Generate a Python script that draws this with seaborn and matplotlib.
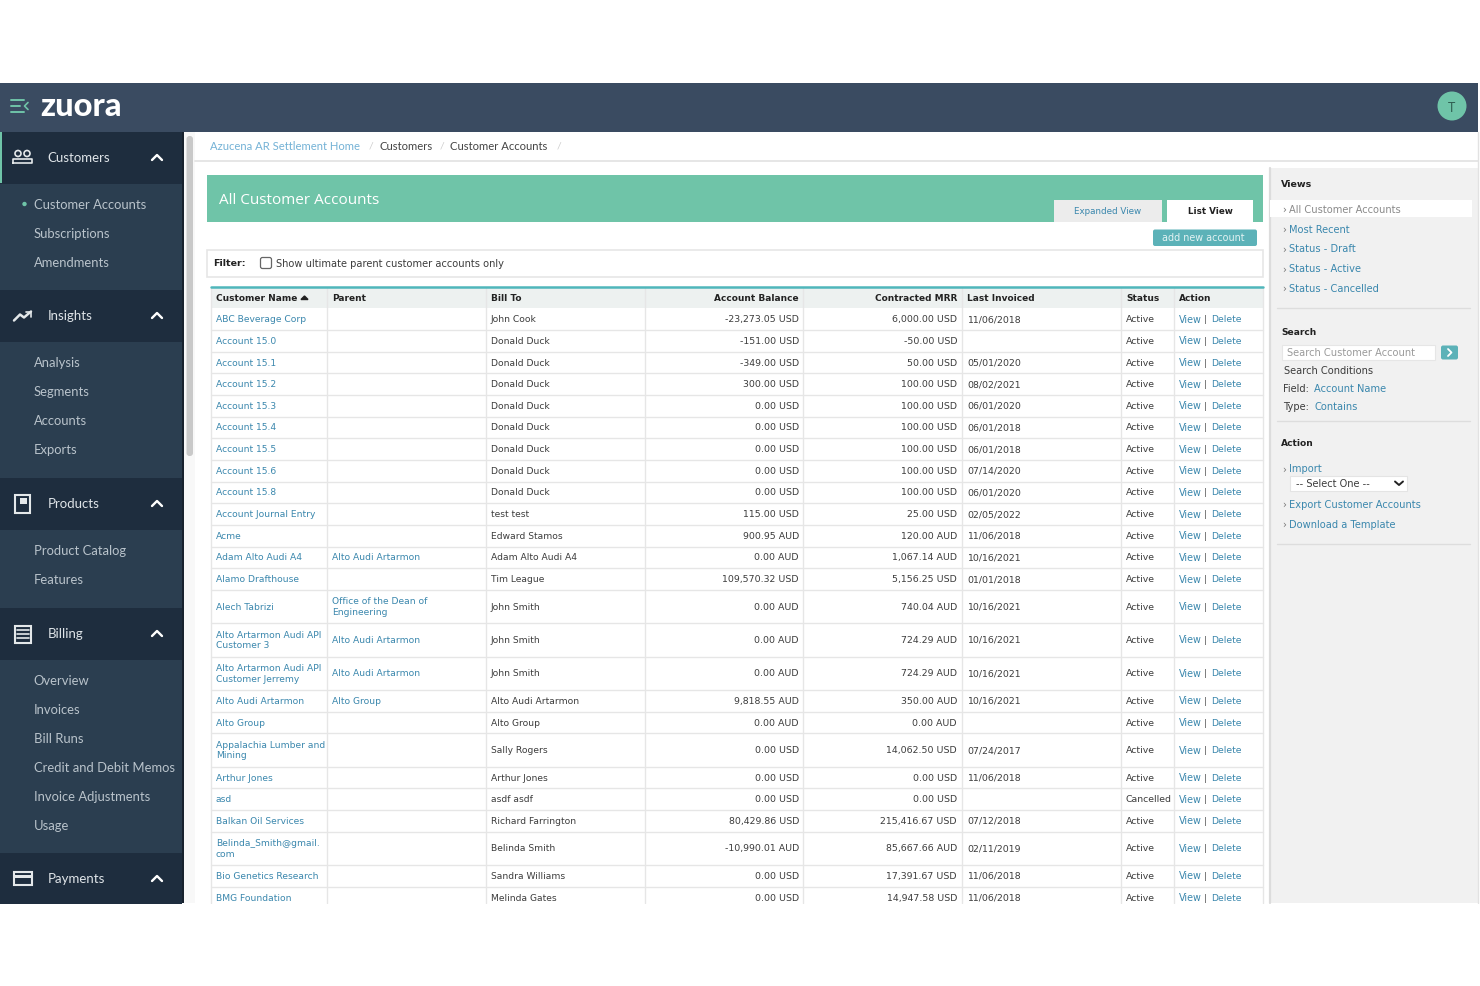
import matplotlib
matplotlib.use("Agg")
import matplotlib.pyplot as plt
from matplotlib.patches import Rectangle, Circle, FancyBboxPatch
import numpy as np
import pandas as pd
import seaborn as sns

customer_name = ["ABC Beverage Corp", "Account 15.0", "Account 15.1", "Account 15.2", "Account 15.3",
                 "Account 15.4", "Account 15.5", "Account 15.6", "Account 15.8", "Account Journal Entry",
                 "Acme", "Adam Alto Audi A4", "Alamo Drafthouse", "Alech Tabrizi",
                 "Alto Artarmon Audi API\nCustomer 3", "Alto Artarmon Audi API\nCustomer Jerremy",
                 "Alto Audi Artarmon", "Alto Group", "Appalachia Lumber and\nMining", "Arthur Jones",
                 "asd", "Balkan Oil Services", "Belinda_Smith@gmail.\ncom", "Bio Genetics Research",
                 "BMG Foundation"]
parent = ["", "", "", "", "", "", "", "", "", "", "", "Alto Audi Artarmon", "",
          "Office of the Dean of\nEngineering", "Alto Audi Artarmon", "Alto Audi Artarmon",
          "Alto Group", "", "", "", "", "", "", "", ""]
bill_to = ["John Cook", "Donald Duck", "Donald Duck", "Donald Duck", "Donald Duck", "Donald Duck",
           "Donald Duck", "Donald Duck", "Donald Duck", "test test", "Edward Stamos", "Adam Alto Audi A4",
           "Tim League", "John Smith", "John Smith", "John Smith", "Alto Audi Artarmon", "Alto Group",
           "Sally Rogers", "Arthur Jones", "asdf asdf", "Richard Farrington", "Belinda Smith",
           "Sandra Williams", "Melinda Gates"]
balance = ["-23,273.05 USD", "-151.00 USD", "-349.00 USD", "300.00 USD", "0.00 USD", "0.00 USD", "0.00 USD",
           "0.00 USD", "0.00 USD", "115.00 USD", "900.95 AUD", "0.00 AUD", "109,570.32 USD", "0.00 AUD",
           "0.00 AUD", "0.00 AUD", "9,818.55 AUD", "0.00 AUD", "0.00 USD", "0.00 USD", "0.00 USD",
           "80,429.86 USD", "-10,990.01 AUD", "0.00 USD", "0.00 USD"]
mrr = ["6,000.00 USD", "-50.00 USD", "50.00 USD", "100.00 USD", "100.00 USD", "100.00 USD", "100.00 USD",
       "100.00 USD", "100.00 USD", "25.00 USD", "120.00 AUD", "1,067.14 AUD", "5,156.25 USD", "740.04 AUD",
       "724.29 AUD", "724.29 AUD", "350.00 AUD", "0.00 AUD", "14,062.50 USD", "0.00 USD", "0.00 USD",
       "215,416.67 USD", "85,667.66 AUD", "17,391.67 USD", "14,947.58 USD"]
invoiced = ["11/06/2018", "", "05/01/2020", "08/02/2021", "06/01/2020", "06/01/2018", "06/01/2018",
            "07/14/2020", "06/01/2020", "02/05/2022", "11/06/2018", "10/16/2021", "01/01/2018", "10/16/2021",
            "10/16/2021", "10/16/2021", "10/16/2021", "", "07/24/2017", "11/06/2018", "", "07/12/2018",
            "02/11/2019", "11/06/2018", "11/06/2018"]
status = ["Active"] * 20 + ["Cancelled"] + ["Active"] * 4

columns = ["Customer Name", "Parent", "Bill To", "Account Balance", "Contracted MRR", "Last Invoiced",
           "Status", "Action"]
menu_sections = ["Customers", "Insights", "Products", "Billing", "Payments"]
menu_items = [["Customer Accounts", "Subscriptions", "Amendments"],
              ["Analysis", "Segments", "Accounts", "Exports"],
              ["Product Catalog", "Features"],
              ["Overview", "Invoices", "Bill Runs", "Credit and Debit Memos", "Invoice Adjustments", "Usage"],
              []]
breadcrumbs = ["Azucena AR Settlement Home", "Customers", "Customer Accounts"]
views = ["All Customer Accounts", "Most Recent", "Status - Draft", "Status - Active", "Status - Cancelled"]

table = pd.DataFrame({"name": customer_name, "parent": parent, "bill": bill_to, "balance": balance,
                      "mrr": mrr, "invoiced": invoiced, "status": status})

sns.set_theme(style="white")
plt.rcParams["font.family"] = ["DejaVu Sans"]

TOP = "#3a4b61"
NAV_DARK = "#1e2d3e"
NAV = "#2b3e50"
GREEN = "#6fc4a8"
TEAL = "#5cb2b8"
LINK = "#3a87ad"
TXT = "#3c3c3c"
LINE = "#e6e6e6"
UI_FONT = "Lato"

fig = plt.figure(figsize=(14.8, 9.87), dpi=100)
ax = fig.add_axes([0, 0, 1, 1])
ax.set_xlim(0, 1480)
ax.set_ylim(986, -1)
ax.axis("off")
sns.despine(ax=ax, left=True, bottom=True)


def box(x0, y0, x1, y1, color, z=1, **kw):
    ax.add_patch(Rectangle((x0, y0), x1 - x0, y1 - y0, facecolor=color, edgecolor=kw.pop("ec", "none"),
                           linewidth=kw.pop("lw", 0), zorder=z, **kw))


def label(x, y, s, size=6.55, color=TXT, ha="left", weight="normal", family="DejaVu Sans", z=5):
    ax.text(x, y - 0.6, s, fontsize=size, color=color, ha=ha, va="center", fontweight=weight, family=family,
            zorder=z, linespacing=1.25)


# top bar and sidebar
box(0, 83, 1478, 132, TOP)
box(0, 132, 182, 903, NAV)
box(182, 132, 183.5, 903, "#18222e", z=2)
box(183.5, 132, 195, 903, "#f8f8f8")
ax.add_patch(FancyBboxPatch((186.5, 136), 6.5, 320, boxstyle="round,pad=0,rounding_size=3", fc="#c9c9c9", ec="none", zorder=3))
ax.text(40, 105, "zuora", fontsize=23.5, color="white", family="Lato", fontweight="black", va="center", zorder=5)
for yy, x1 in zip([100, 106, 112], [24, 20, 24]):
    ax.plot([11, x1], [yy, yy], color=GREEN, lw=1.4, zorder=5)
ax.plot([28, 24.5, 28], [102.5, 106, 109.5], color=GREEN, lw=1.2, zorder=5)
ax.add_patch(Circle((1452, 106), 14.5, fc=GREEN, ec="none", zorder=3))
ax.text(1452, 106.5, "T", color="#2f5e50", fontsize=9, ha="center", va="center", family="Lato", zorder=5)

section_y = 132
section_mid = []
for sec, items, pad in zip(menu_sections, menu_items, [19, 20, 20, 19, 0]):
    box(0, section_y, 182, section_y + 52, NAV_DARK)
    mid = section_y + 25.5
    section_mid.append(mid)
    label(47.5, mid, sec, size=9.5, color="#dfe4e8", family=UI_FONT)
    ax.plot([152, 157, 162], [mid + 2.5, mid - 2.5, mid + 2.5], color="white", lw=1.7, zorder=5)
    for k, item in enumerate(items):
        label(33.5, section_y + 72.5 + k * 29, item, size=9.4, color="#b9c3cb", family=UI_FONT)
    section_y += 52 + 29 * len(items) + pad
box(0, 132, 1.5, 183, GREEN, z=3)
ax.add_patch(Circle((24.5, 204), 2.2, fc=GREEN, ec="none", zorder=5))

# sidebar icons
m = section_mid
ax.add_patch(Circle((18, m[0] - 4), 3, fc="none", ec="#e4e8ea", lw=1.2, zorder=5))
ax.add_patch(Circle((27, m[0] - 4), 3, fc="none", ec="#e4e8ea", lw=1.2, zorder=5))
ax.plot([13, 13, 32, 32, 13], [m[0] + 5, m[0] + 1, m[0] + 1, m[0] + 5, m[0] + 5], color="#e4e8ea", lw=1.2, zorder=5)
ax.plot([14, 20, 24, 31], [m[1] + 5, m[1] - 1, m[1] + 2, m[1] - 4], color="#e4e8ea", lw=1.8, zorder=5)
ax.plot([26, 31, 31], [m[1] - 4, m[1] - 4, m[1] + 1], color="#e4e8ea", lw=1.2, zorder=5)
box(15, m[2] - 9, 30, m[2] + 9, "none", z=5, ec="#e4e8ea", lw=1.5)
box(19.5, m[2] - 6, 27, m[2], "#e4e8ea", z=5)
box(15, m[3] - 8, 31, m[3] + 9, "none", z=5, ec="#e4e8ea", lw=1.5)
for d in [-4, 0, 4]:
    ax.plot([17, 29], [m[3] + d, m[3] + d], color="#e4e8ea", lw=1.2, zorder=5)
box(14, m[4] - 6.5, 31.5, m[4] + 6.5, "none", z=5, ec="#e4e8ea", lw=1.5)
box(14, m[4] - 4, 31.5, m[4] - 1, "#e4e8ea", z=5)

# breadcrumbs
box(195, 132, 1478, 161, "white")
ax.plot([195, 1478], [161, 161], color=LINE, lw=1.4, zorder=2)
bx = [210, 379.5, 450.5]
for x, crumb, col in zip(bx, breadcrumbs, ["#74b2d6", "#444444", "#444444"]):
    label(x, 146, crumb, size=8.1, color=col, family=UI_FONT)
for x in [369, 440, 557]:
    label(x, 146, "/", size=7.5, color="#cccccc", family=UI_FONT)

# title banner, tabs, filter
box(207, 175, 1263, 222, GREEN, z=2)
label(219, 200.5, "All Customer Accounts", size=11.0, color="white", family="Open Sans")
box(1054, 200, 1162, 222, "#ececec", z=3)
box(1167, 200, 1253, 222, "white", z=3)
label(1108, 211.5, "Expanded View", size=6.35, color=LINK, ha="center")
label(1210, 211.5, "List View", size=6.3, color="#222222", ha="center", weight="bold")
ax.add_patch(FancyBboxPatch((1153, 229.5), 104, 16.5, boxstyle="round,pad=0,rounding_size=2", fc=TEAL, ec="none", zorder=3))
label(1203, 238, "add new account", size=6.9, color="#e3f3f3", ha="center")
box(207, 250, 1263, 276.5, "white", z=2, ec=LINE, lw=1.2)
label(213, 263.5, "Filter:", size=6.8, color="#222222", weight="bold")
ax.add_patch(FancyBboxPatch((260.5, 257.5), 11, 11, boxstyle="round,pad=0,rounding_size=2", fc="white", ec="#666666", lw=0.9, zorder=3))
label(275.5, 263.5, "Show ultimate parent customer accounts only", size=7.15)

# table
col_edges = [211, 327, 486, 645, 803, 962, 1121, 1174, 1263]
box(211, 288, 1263, 308, "#edf1f0", z=2)
ax.plot([211, 1263], [287, 287], color="#4fb6bb", lw=1.8, zorder=3)
header_x = [216, 332.5, 491, 799, 957, 967, 1126, 1179]
header_ha = ["left", "left", "left", "right", "right", "left", "left", "left"]
for x, name, ha in zip(header_x, columns, header_ha):
    label(x, 298, name, size=6.5, color="#222222", weight="bold", ha=ha)
ax.fill([301, 308, 304.5], [299.5, 299.5, 296], color="#222222", zorder=5)

lines = np.array([max(a.count("\n"), b.count("\n")) for a, b in zip(customer_name, parent)])
heights = np.where(lines > 0, 33.4, 21.65)
row_bottom = 308.5 + np.cumsum(heights)
row_top = row_bottom - heights
for top, bottom, row in zip(row_top, row_bottom, table.itertuples()):
    mid = (top + bottom) / 2
    ax.plot([211, 1263], [bottom, bottom], color=LINE, lw=1.0, zorder=2)
    label(216, mid, row.name, color=LINK)
    if row.parent:
        label(332.5, mid, row.parent, color=LINK)
    label(491, mid, row.bill)
    label(799, mid, row.balance, size=6.75, ha="right")
    label(957, mid, row.mrr, size=6.75, ha="right")
    label(967, mid, row.invoiced, size=6.75)
    label(1126, mid, row.status, size=6.75)
    label(1179, mid, "View", size=6.9, color=LINK)
    label(1205, mid, "|", color="#555555", ha="center")
    label(1211, mid, "Delete", size=6.7, color=LINK)
for x in col_edges:
    ax.plot([x, x], [288, 903], color=LINE, lw=1.0, zorder=2)

# right panel
box(1270, 168, 1478, 903, "#f1f1f1", z=2)
ax.plot([1270, 1270], [168, 903], color="#dcdcdc", lw=1.6, zorder=3)
ax.plot([1478, 1478], [132, 903], color="#e2e2e2", lw=1, zorder=3)
label(1281, 184, "Views", size=6.8, color="#222222", weight="bold")
box(1270, 200, 1472, 217, "white", z=3)
for k, view in enumerate(views):
    yy = 209.3 + k * 19.85
    label(1282.5, yy, "\u203a", size=7.1, color="#777777")
    label(1289, yy, view, size=7.15, color="#8a8a8a" if k == 0 else LINK)
for yy in [308, 420.5, 544]:
    ax.plot([1277, 1470], [yy, yy], color="#dddddd", lw=1, zorder=3)
label(1281, 332, "Search", size=6.6, color="#222222", weight="bold")
box(1281.5, 344.5, 1435, 360, "white", z=3, ec="#e6e6e6", lw=0.8)
label(1287, 352.5, "Search Customer Account", size=7.15, color="#9a9a9a")
ax.add_patch(FancyBboxPatch((1441, 345.5), 17, 14, boxstyle="round,pad=0,rounding_size=2", fc=TEAL, ec="none", zorder=3))
ax.plot([1448, 1451.5, 1448], [349, 352.5, 356], color="white", lw=1.3, zorder=5)
label(1283.5, 370.5, "Search Conditions", size=7.15)
label(1283.5, 388.7, "Field:", size=7.15)
label(1314.5, 388.7, "Account Name", size=7.1, color=LINK)
label(1283.5, 406.7, "Type:", size=7.15)
label(1314.5, 406.7, "Contains", size=7.1, color=LINK)
label(1281, 443.5, "Action", size=6.6, color="#222222", weight="bold")
label(1282.5, 469, "\u203a", size=7.1, color="#777777")
label(1289, 469, "Import", size=7.15, color=LINK)
box(1289.5, 475.5, 1407, 491, "white", z=3, ec="#e4e4e4", lw=0.8)
label(1296, 483.5, "-- Select One --", size=7.1)
ax.plot([1395, 1399, 1403], [481.5, 485, 481.5], color="#222222", lw=1.4, zorder=5)
label(1282.5, 504.5, "\u203a", size=7.1, color="#777777")
label(1289, 504.5, "Export Customer Accounts", size=7.15, color=LINK)
label(1282.5, 524.5, "\u203a", size=7.1, color="#777777")
label(1289, 524.5, "Download a Template", size=7.15, color=LINK)

# white margins cut the screenshot off
box(0, 903.5, 1480, 988, "white", z=10)
box(0, -2, 1480, 83, "white", z=10)

fig.savefig("out.png", dpi=100, facecolor="white")
